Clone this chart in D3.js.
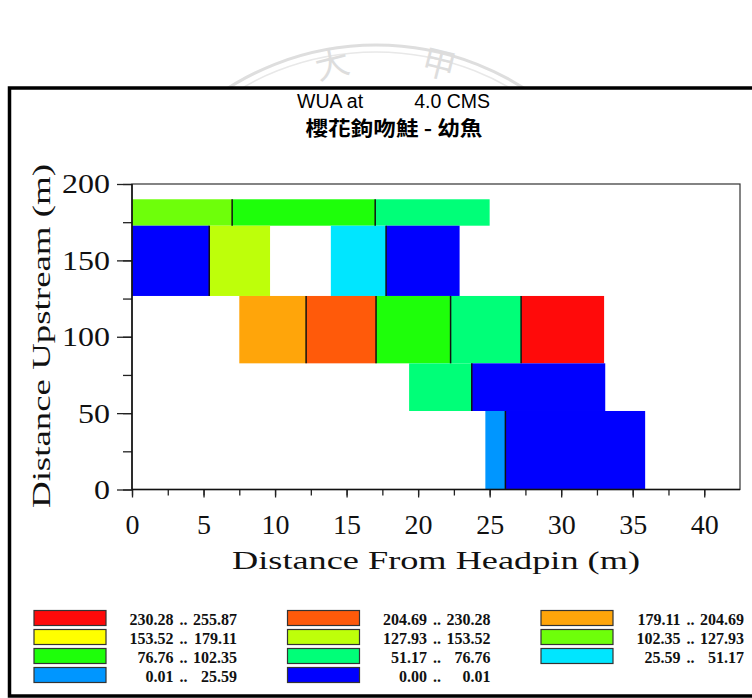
<!DOCTYPE html>
<html>
<head>
<meta charset="utf-8">
<script src="https://cdnjs.cloudflare.com/ajax/libs/d3/7.8.5/d3.min.js"></script>
<style>
    body { margin: 0; background: #fff; }
    svg { display: block; }
</style>
</head>
<body>
<div id="chart"></div>
<script>
// WUA at 4.0 CMS - cell map (distance from headpin x distance upstream)
var titleParts = ["WUA at", "4.0 CMS"];
var subTitle = "櫻花鉤吻鮭 - 幼魚";

// upstream distance of transect boundaries (m), top to bottom
var transectY = [190, 172.7, 126.7, 82.6, 51.4, 0];

// cell edges across each transect row (m from headpin)
var cellEdges = [
    [0, 7.0, 17.0, 25.0],
    [0, 5.4, 9.65, 13.9, 17.76, 22.9],
    [7.5, 12.17, 17.06, 22.27, 27.2, 33.0],
    [19.37, 23.75, 33.08],
    [24.7, 26.1, 35.87]
];

// WUA value of each cell (null = no cell drawn)
var cellWUA = [
    [115, 90, 64],
    [0.00, 140, null, 38, 0.00],
    [192, 217, 89, 64, 243],
    [64, 0.00],
    [13, 0.00]
];

var breaks = [0.00, 0.01, 25.59, 51.17, 76.76, 102.35, 127.93, 153.52, 179.11, 204.69, 230.28, 255.87];
var binColors = ["#0000ff", "#0096ff", "#00e6ff", "#00ff78", "#1eff0a", "#6eff0a",
    "#beff0a", "#ffff00", "#ffa50a", "#ff5a0a", "#ff0a0a"];

var xTicks = [0, 5, 10, 15, 20, 25, 30, 35, 40];
var yTicks = [0, 50, 100, 150, 200];

var width = 752, height = 698;
var plot = { left: 132, top: 184, right: 740, bottom: 489.5 };

var svg = d3.select('#chart').append('svg')
    .attr('width', width)
    .attr('height', height);

// faint watermark behind the frame
var wm = svg.append('g').attr('class', 'watermark');
wm.append('circle')
    .attr('cx', 376).attr('cy', 320).attr('r', 275)
    .style('fill', 'none').style('stroke', '#dedede').style('stroke-width', 3);
wm.append('circle')
    .attr('cx', 376).attr('cy', 320).attr('r', 268)
    .style('fill', 'none').style('stroke', '#e8e8e8').style('stroke-width', 1.5);
wm.append('text').text('大')
    .attr('transform', 'translate(335,76) rotate(-14)')
    .style('font-family', '"Noto Sans CJK TC", sans-serif')
    .style('font-size', '34px').style('fill', '#dddddd').style('text-anchor', 'middle');
wm.append('text').text('甲')
    .attr('transform', 'translate(436,76) rotate(14)')
    .style('font-family', '"Noto Sans CJK TC", sans-serif')
    .style('font-size', '34px').style('fill', '#dddddd').style('text-anchor', 'middle');

// outer frame
svg.append('rect')
    .attr('x', 9.5).attr('y', 88)
    .attr('width', 780).attr('height', 608)
    .style('fill', '#fff').style('stroke', '#000').style('stroke-width', 3.5);

// title
svg.append('text').text(titleParts[0])
    .attr('x', 297).attr('y', 108)
    .style('font-family', '"Liberation Sans", Arial, sans-serif')
    .style('font-size', '19.5px');
svg.append('text').text(titleParts[1])
    .attr('x', 490).attr('y', 108)
    .style('font-family', '"Liberation Sans", Arial, sans-serif')
    .style('font-size', '19.5px').style('text-anchor', 'end');
svg.append('text').text(subTitle)
    .attr('x', 394).attr('y', 136)
    .attr('textLength', 177).attr('lengthAdjust', 'spacingAndGlyphs')
    .style('font-family', '"Noto Sans CJK TC", sans-serif')
    .style('font-size', '20px').style('font-weight', 'bold').style('text-anchor', 'middle');

var x = d3.scaleLinear().domain([0, 42.5]).range([plot.left, plot.right]);
var y = d3.scaleLinear().domain([0, 200]).range([plot.bottom, plot.top]);
var color = d3.scaleThreshold().domain(breaks.slice(1, -1)).range(binColors);

// cells
var cells = [];
cellEdges.forEach(function (edges, r) {
    for (var i = 0; i < edges.length - 1; i++) {
        var v = cellWUA[r][i];
        if (v == null) continue;
        cells.push({
            x0: edges[i], x1: edges[i + 1],
            y0: transectY[r + 1], y1: transectY[r],
            value: v,
            divider: i > 0 && cellWUA[r][i - 1] != null
        });
    }
});

var g = svg.append('g');
g.selectAll('rect.cell').data(cells).enter().append('rect')
    .attr('class', 'cell')
    .attr('x', function (d) { return x(d.x0); })
    .attr('y', function (d) { return y(d.y1); })
    .attr('width', function (d) { return x(d.x1) - x(d.x0); })
    .attr('height', function (d) { return y(d.y0) - y(d.y1); })
    .style('fill', function (d) { return color(d.value); });

g.selectAll('line.divider').data(cells.filter(function (d) { return d.divider; }))
    .enter().append('line')
    .attr('x1', function (d) { return x(d.x0); })
    .attr('x2', function (d) { return x(d.x0); })
    .attr('y1', function (d) { return y(d.y1); })
    .attr('y2', function (d) { return y(d.y0); })
    .style('stroke', '#111').style('stroke-width', 1.5);

// plot border
svg.append('rect')
    .attr('x', plot.left).attr('y', plot.top)
    .attr('width', plot.right - plot.left).attr('height', plot.bottom - plot.top)
    .style('fill', 'none').style('stroke', '#333').style('stroke-width', 1.2);

var tickFont = '"Liberation Serif", "Times New Roman", serif';

// x axis
var xAxis = svg.append('g').attr('transform', 'translate(0,' + plot.bottom + ')');
xAxis.call(d3.axisBottom(x).tickValues(d3.range(0, 42.5, 2.5)).tickSize(6).tickFormat(''));
xAxis.append('g').call(d3.axisBottom(x).tickValues(xTicks).tickSize(8).tickPadding(17));
xAxis.selectAll('.domain').remove();
xAxis.selectAll('line').style('stroke', '#222').style('stroke-width', 1.3);
xAxis.selectAll('text')
    .style('font-family', tickFont).style('font-size', '28px').style('fill', '#111');
svg.append('line')
    .attr('x1', plot.left).attr('x2', plot.right)
    .attr('y1', plot.bottom).attr('y2', plot.bottom)
    .style('stroke', '#111').style('stroke-width', 1.5);

// y axis
var yAxis = svg.append('g').attr('transform', 'translate(' + plot.left + ',0)');
yAxis.call(d3.axisLeft(y).tickValues(d3.range(0, 201, 25)).tickSize(9).tickFormat(''));
yAxis.append('g').call(d3.axisLeft(y).tickValues(yTicks).tickSize(15).tickPadding(7));
yAxis.selectAll('.domain').remove();
yAxis.selectAll('line').style('stroke', '#222').style('stroke-width', 1.3);
yAxis.selectAll('text')
    .attr('textLength', function (d) { return String(d).length * 16; })
    .attr('lengthAdjust', 'spacingAndGlyphs')
    .style('font-family', tickFont).style('font-size', '28px').style('fill', '#111');
svg.append('line')
    .attr('x1', plot.left).attr('x2', plot.left)
    .attr('y1', plot.top).attr('y2', plot.bottom)
    .style('stroke', '#111').style('stroke-width', 1.5);

// axis titles
svg.append('text').text('Distance From Headpin (m)')
    .attr('x', 232).attr('y', 569)
    .attr('textLength', 408).attr('lengthAdjust', 'spacingAndGlyphs')
    .style('font-family', tickFont).style('font-size', '26px').style('fill', '#111');
svg.append('text').text('Distance Upstream (m)')
    .attr('transform', 'translate(50,508) rotate(-90)')
    .attr('textLength', 344).attr('lengthAdjust', 'spacingAndGlyphs')
    .style('font-family', tickFont).style('font-size', '26px').style('fill', '#111');

// legend
var legendItems = [];
for (var i = binColors.length - 1; i >= 0; i--) {
    legendItems.push({ color: binColors[i], lo: breaks[i], hi: breaks[i + 1] });
}

var legend = svg.append('g').attr('class', 'legend');
var item = legend.selectAll('g.item').data(legendItems).enter().append('g')
    .attr('class', 'item')
    .attr('transform', function (d, i) {
        return 'translate(' + (33.5 + (i % 3) * 253.5) + ',' + (610 + Math.floor(i / 3) * 19) + ')';
    });

item.append('rect')
    .attr('x', 0.5).attr('y', 0.5)
    .attr('width', 72).attr('height', 15)
    .style('fill', function (d) { return d.color; })
    .style('stroke', '#333').style('stroke-width', 1.2);

var legendFont = function (sel) {
    sel.style('font-family', tickFont).style('font-size', '16px')
        .style('font-weight', 'bold').style('fill', '#111');
};
item.append('text').text(function (d) { return d.lo.toFixed(2); })
    .attr('x', 140).attr('y', 15).style('text-anchor', 'end').call(legendFont);
item.append('text').text('..')
    .attr('x', 146).attr('y', 15).call(legendFont);
item.append('text').text(function (d) { return d.hi.toFixed(2); })
    .attr('x', 203.5).attr('y', 15).style('text-anchor', 'end').call(legendFont);
</script>
</body>
</html>
